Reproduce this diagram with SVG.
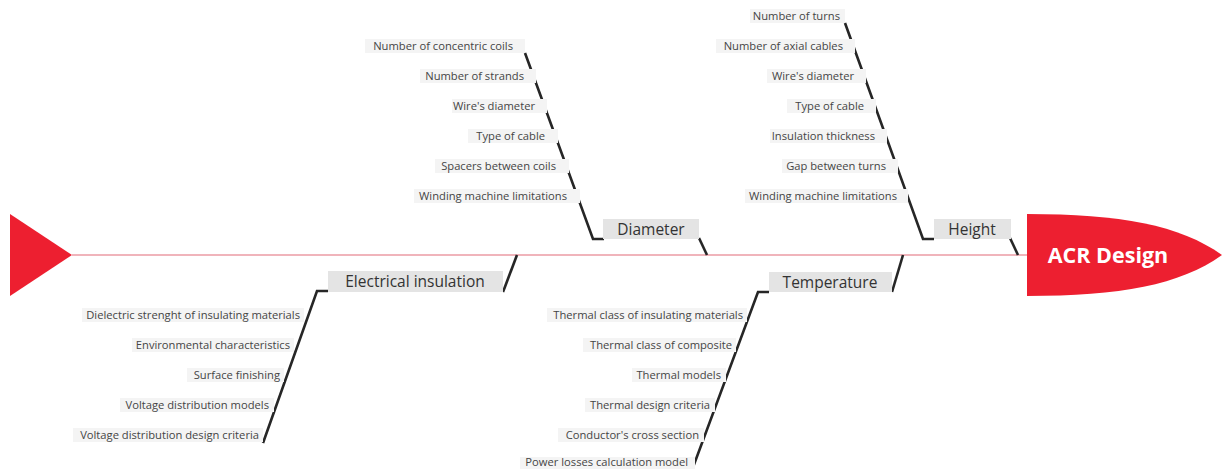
<svg xmlns="http://www.w3.org/2000/svg" width="1222" height="469" viewBox="0 0 1222 469">
<style>
.bone{fill:none;stroke:#262626;stroke-width:2.6;stroke-linecap:butt;stroke-linejoin:miter}
.sb{fill:#f4f4f4}
.mb{fill:#e4e4e4}
.st{font-family:"Open Sans","Liberation Sans",sans-serif;font-size:11.2px;fill:#454545;text-anchor:end}
.mt{font-family:"Open Sans","Liberation Sans",sans-serif;font-size:15.5px;fill:#333;text-anchor:middle}
</style>
<rect width="1222" height="469" fill="#fff"/>
<g id="spine">
<line x1="72" y1="255" x2="1027" y2="255" stroke="#e26b78" stroke-width="1.2"/>
<polygon points="10,214 72,255 10,296" fill="#ed1f30"/>
</g>
<g id="connectors">
<polyline class="bone" points="525,53 593,239 604,239"/>
<line class="bone" x1="699" y1="238" x2="707" y2="255"/>
<polyline class="bone" points="845,23 923,239 934,239"/>
<line class="bone" x1="1010" y1="238" x2="1018" y2="255"/>
<polyline class="bone" points="328,291 317,291 263,443"/>
<line class="bone" x1="503" y1="292" x2="517" y2="255"/>
<polyline class="bone" points="769,292 758,292 692,470"/>
<line class="bone" x1="892" y1="292" x2="903" y2="255"/>
</g>
<g id="head">
<path d="M1027,214 C1120,214 1180,225 1222,255 C1180,285 1120,296 1027,296 Z" fill="#ed1f30"/>
<text x="1108" y="263" text-anchor="middle" font-family="'Open Sans','Liberation Sans',sans-serif" font-size="21.5" font-weight="bold" fill="#fff">ACR Design</text>
</g>
<g id="diameter">
<rect class="mb" x="603" y="219" width="96" height="20"/>
<text class="mt" x="651" y="235">Diameter</text>
<rect class="sb" x="365" y="39" width="160" height="14"/><text class="st" x="513" y="50">Number of concentric coils</text>
<rect class="sb" x="420" y="69" width="116" height="14"/><text class="st" x="524" y="80">Number of strands</text>
<rect class="sb" x="452" y="99" width="95" height="14"/><text class="st" x="535" y="110">Wire's diameter</text>
<rect class="sb" x="468" y="129" width="90" height="14"/><text class="st" x="545" y="140">Type of cable</text>
<rect class="sb" x="435" y="159" width="134" height="14"/><text class="st" x="556" y="170">Spacers between coils</text>
<rect class="sb" x="414" y="189" width="166" height="14"/><text class="st" x="567" y="200">Winding machine limitations</text>
</g>
<g id="height">
<rect class="mb" x="934" y="219" width="77" height="20"/>
<text class="mt" x="972" y="235">Height</text>
<rect class="sb" x="750" y="9" width="95" height="14"/><text class="st" x="840" y="20">Number of turns</text>
<rect class="sb" x="716" y="39" width="139" height="14"/><text class="st" x="843" y="50">Number of axial cables</text>
<rect class="sb" x="767" y="69" width="99" height="14"/><text class="st" x="854" y="80">Wire's diameter</text>
<rect class="sb" x="787" y="99" width="89" height="14"/><text class="st" x="864" y="110">Type of cable</text>
<rect class="sb" x="770" y="129" width="117" height="14"/><text class="st" x="875" y="140">Insulation thickness</text>
<rect class="sb" x="782" y="159" width="116" height="14"/><text class="st" x="886" y="170">Gap between turns</text>
<rect class="sb" x="745" y="189" width="163" height="14"/><text class="st" x="897" y="200">Winding machine limitations</text>
</g>
<g id="electrical-insulation">
<rect class="mb" x="328" y="271" width="175" height="21"/>
<text class="mt" x="415" y="287">Electrical insulation</text>
<rect class="sb" x="82" y="308" width="222" height="14"/><text class="st" x="300" y="319">Dielectric strenght of insulating materials</text>
<rect class="sb" x="132" y="338" width="162" height="14"/><text class="st" x="290" y="349">Environmental characteristics</text>
<rect class="sb" x="187" y="368" width="97" height="14"/><text class="st" x="280" y="379">Surface finishing</text>
<rect class="sb" x="120" y="398" width="154" height="14"/><text class="st" x="269" y="409">Voltage distribution models</text>
<rect class="sb" x="73" y="428" width="190" height="14"/><text class="st" x="259" y="439">Voltage distribution design criteria</text>
</g>
<g id="temperature">
<rect class="mb" x="769" y="272" width="123" height="20"/>
<text class="mt" x="830" y="288">Temperature</text>
<rect class="sb" x="547" y="308" width="200" height="14"/><text class="st" x="743" y="319">Thermal class of insulating materials</text>
<rect class="sb" x="583" y="338" width="153" height="14"/><text class="st" x="732" y="349">Thermal class of composite</text>
<rect class="sb" x="632" y="368" width="94" height="14"/><text class="st" x="721" y="379">Thermal models</text>
<rect class="sb" x="585" y="398" width="130" height="14"/><text class="st" x="710" y="409">Thermal design criteria</text>
<rect class="sb" x="558" y="428" width="146" height="14"/><text class="st" x="699" y="439">Conductor's cross section</text>
<rect class="sb" x="520" y="457" width="175" height="12"/><text class="st" x="688" y="466">Power losses calculation model</text>
</g>
</svg>
